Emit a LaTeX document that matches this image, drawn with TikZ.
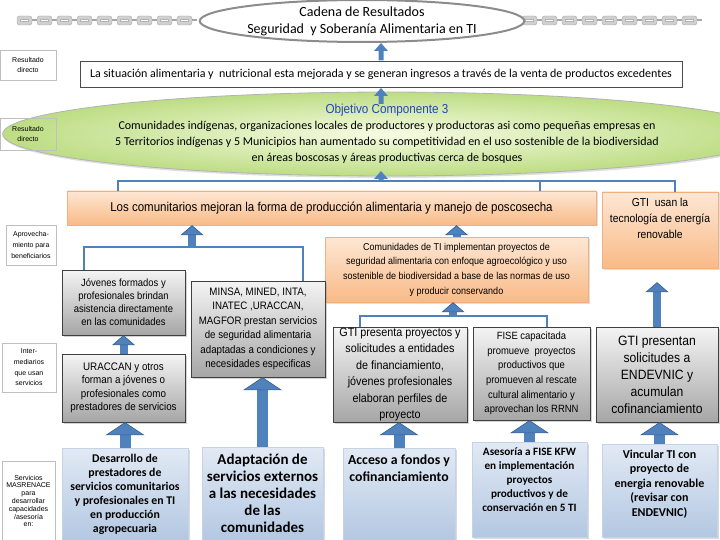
\documentclass[tikz,border=0pt]{standalone}
\usepackage{fontspec}
\setmainfont{Carlito}
\newfontfamily\arialf[FakeStretch=0.9]{Liberation Sans}
\newfontfamily\arialw{Liberation Sans}
\usetikzlibrary{shapes.geometric,arrows.meta,shadows}

\definecolor{arrblue}{HTML}{4F81BD}
\definecolor{arrdark}{HTML}{385D8A}
\definecolor{orgtop}{HTML}{FDE7D4}
\definecolor{orgbot}{HTML}{F9BA87}
\definecolor{orgline}{HTML}{F2B07E}
\definecolor{greytop}{HTML}{F4F4F4}
\definecolor{greybot}{HTML}{A6A6A6}
\definecolor{bluetop}{HTML}{E1E9F4}
\definecolor{bluebot}{HTML}{B4C8E2}
\definecolor{blueline}{HTML}{C5D3E6}
\definecolor{greenin}{HTML}{F6FBE3}
\definecolor{greenout}{HTML}{BDDD84}
\definecolor{chaingray}{HTML}{D0D0D0}
\definecolor{objblue}{HTML}{2348B5}

% box with its text kept at the top
\newcommand{\topfill}[4]{\parbox[c][#1][t]{#2}{\centering\vspace*{#3}#4}}

\tikzset{
  orangebox/.style={draw=orgline, top color=orgtop, bottom color=orgbot,
    drop shadow={opacity=0.25,shadow xshift=1.5pt,shadow yshift=-1.5pt},
    align=center, inner sep=0pt},
  greybox/.style={draw=black!75, top color=greytop, bottom color=greybot,
    drop shadow={opacity=0.35,shadow xshift=1.5pt,shadow yshift=-1.5pt},
    align=center, inner sep=0pt},
  bluebox/.style={draw=blueline, top color=bluetop, bottom color=bluebot,
    drop shadow={opacity=0.3,shadow xshift=1.5pt,shadow yshift=-1.5pt},
    align=center, inner sep=0pt},
  sidelabel/.style={draw=black!25, align=center, inner sep=0pt},
  bracket/.style={draw=arrblue, line width=1.6pt},
  arrmid/.style={draw=arrblue, line width=8pt,
    -{Triangle[width=23pt,length=10pt,color=arrdark,fill=arrblue,line width=0.6pt]}},
  arrbig/.style={draw=arrblue, line width=11pt,
    -{Triangle[width=39pt,length=13pt,color=arrdark,fill=arrblue,line width=0.6pt]}},
}

\begin{document}
\begin{tikzpicture}[x=1pt,y=-1pt]
\useasboundingbox (0,0) rectangle (720,540);

% chains left and right of the title
\foreach \cx in {17,37,...,177}{
  \draw[draw=black!35, fill=chaingray, rounded corners=2.5pt] (\cx,16) rectangle ++(15,9);
  \draw[draw=black!30, fill=white] (\cx+3.5,19.3) rectangle ++(8,2.4);
  \draw[black!35, line width=2pt] (\cx+15,20.5) -- ++(5,0);
}
\foreach \cx in {522,542,...,682}{
  \draw[draw=black!35, fill=chaingray, rounded corners=2.5pt] (\cx,16) rectangle ++(15,9);
  \draw[draw=black!30, fill=white] (\cx+3.5,19.3) rectangle ++(8,2.4);
  \draw[black!35, line width=2pt] (\cx+15,20.5) -- ++(5,0);
}

% title and results
\node[ellipse, draw=black!45, line width=2pt, fill=white, minimum width=314pt,
  minimum height=42pt, inner sep=0pt, align=center,
  font=\fontsize{14}{17}\selectfont] (cadena) at (362,21)
  {Cadena de Resultados\\Seguridad~ y Soberanía Alimentaria en TI};
\node[draw=black!70, fill=white, minimum width=602pt, minimum height=26pt, inner sep=0pt,
  font=\fontsize{12}{14}\selectfont] (situacion) at (381,74)
  {La situación alimentaria y~ nutricional esta mejorada y se generan ingresos a través de la venta de productos excedentes};
\node[ellipse, draw=black!30, line width=0.8pt, inner color=greenin, outer color=greenout,
  drop shadow={opacity=0.25,shadow xshift=1.5pt,shadow yshift=-2pt},
  minimum width=660pt, minimum height=83pt, inner sep=0pt, align=center,
  font=\fontsize{12}{16}\selectfont] (objetivo) at (387,134)
  {{\arialf\fontsize{13}{16}\selectfont\color{objblue}Objetivo Componente 3}\\
   Comunidades indígenas, organizaciones locales de productores y productoras asi como pequeñas empresas en\\
   5 Territorios indígenas y 5 Municipios han aumentado su competitividad en el uso sostenible de la biodiversidad\\
   en áreas boscosas y áreas productivas cerca de bosques};

% side labels
\node[sidelabel, minimum width=56pt, minimum height=30pt,
  font=\arialw\fontsize{7}{10}\selectfont] (lab1) at (28,65) {Resultado\\directo};
\node[sidelabel, minimum width=56pt, minimum height=32pt,
  font=\arialw\fontsize{7}{10}\selectfont] (lab2) at (28,134) {Resultado\\directo};
\node[sidelabel, minimum width=50pt, minimum height=40pt,
  font=\arialw\fontsize{7}{11}\selectfont] (lab3) at (31,245) {Aprovecha-\\miento para\\beneficiarios};
\node[sidelabel, minimum width=54pt, minimum height=49pt,
  font=\arialw\fontsize{7}{10.7}\selectfont] (lab4) at (29,367.5) {Inter-\\mediarios\\que usan\\servicios};
\node[sidelabel, minimum width=53pt, minimum height=80pt,
  font=\arialw\fontsize{7}{7.8}\selectfont] (lab5) at (28.5,501)
  {Servicios\\MASRENACE\\para\\desarrollar\\capacidades\\/asesoría\\en:};

% orange outcome boxes
\node[orangebox, minimum width=529pt, minimum height=34pt,
  font=\arialf\fontsize{12.8}{14}\selectfont] (comunitarios) at (331.5,208)
  {Los comunitarios mejoran la forma de producción alimentaria y manejo de poscosecha};
\node[orangebox, font=\arialf\fontsize{11.5}{16}\selectfont] (energia) at (660,230)
  {\topfill{76pt}{116pt}{6pt}{GTI~ usan la\\tecnología de energía\\renovable}};
\node[orangebox, minimum width=263pt, minimum height=65pt,
  font=\arialf\fontsize{10}{14.7}\selectfont] (comunidades) at (456.5,269.5)
  {Comunidades de TI implementan proyectos de\\seguridad alimentaria con enfoque agroecológico y uso\\sostenible de biodiversidad a base de las normas de uso\\y producir conservando};

% grey intermediary boxes
\node[greybox, minimum width=123pt, minimum height=65pt,
  font=\arialf\fontsize{10.5}{13}\selectfont] (jovenes) at (123.5,302.5)
  {Jóvenes formados y\\profesionales brindan\\asistencia directamente\\en las comunidades};
\node[greybox, minimum width=134pt, minimum height=96pt,
  font=\arialf\fontsize{10.8}{14.5}\selectfont] (minsa) at (258,329)
  {MINSA, MINED, INTA,\\INATEC ,URACCAN,\\MAGFOR prestan servicios\\de seguridad alimentaria\\adaptadas a condiciones y\\necesidades especificas};
\node[greybox, minimum width=123pt, minimum height=68pt,
  font=\arialf\fontsize{10.9}{13.5}\selectfont] (uraccan) at (123.5,388)
  {URACCAN y otros\\forman a jóvenes o\\profesionales como\\prestadores de servicios};
\node[greybox, minimum width=134pt, minimum height=95pt,
  font=\arialf\fontsize{12}{16.5}\selectfont] (gtipresenta) at (400,374.5)
  {GTI presenta proyectos y\\solicitudes a entidades\\de financiamiento,\\jóvenes profesionales\\elaboran perfiles de\\proyecto};
\node[greybox, minimum width=117pt, minimum height=93pt,
  font=\arialf\fontsize{10.5}{14.7}\selectfont] (fise) at (531.5,373.5)
  {FISE capacitada\\promueve~ proyectos\\productivos que\\promueven al rescate\\cultural alimentario y\\aprovechan los RRNN};
\node[greybox, minimum width=122pt, minimum height=95pt,
  font=\arialf\fontsize{13.5}{17}\selectfont] (gtipresentan) at (657,374.5)
  {GTI presentan\\solicitudes a\\ENDEVNIC y\\acumulan\\cofinanciamiento};

% blue service boxes
\node[bluebox, minimum width=126pt, minimum height=92pt,
  font=\bfseries\fontsize{11.8}{14}\selectfont] (desarrollo) at (125,494)
  {Desarrollo de\\prestadores de\\servicios comunitarios\\y profesionales en TI\\en producción\\agropecuaria};
\node[bluebox, minimum width=121pt, minimum height=93pt,
  font=\bfseries\fontsize{15}{17}\selectfont] (adaptacion) at (262.5,493.5)
  {Adaptación de\\servicios externos\\a las necesidades\\de las\\comunidades};
\node[bluebox, font=\bfseries\fontsize{13.8}{17}\selectfont] (acceso) at (399,494)
  {\topfill{92pt}{112pt}{7pt}{Acceso a fondos y\\cofinanciamiento}};
\node[bluebox, font=\bfseries\fontsize{11.2}{14}\selectfont] (asesoria) at (529.5,489.5)
  {\topfill{95pt}{115pt}{6pt}{Asesoría a FISE KFW\\en implementación\\proyectos\\productivos y de\\conservación en 5 TI}};
\node[bluebox, font=\bfseries\fontsize{12}{14.5}\selectfont] (vincular) at (659.5,490.5)
  {\topfill{93pt}{115pt}{6pt}{Vincular TI con\\proyecto de\\energia renovable\\(revisar con\\ENDEVNIC)}};

% brackets
\coordinate (tb) at (381,181);
\coordinate (lb) at (192,247);
\coordinate (mb) at (453,316);
\coordinate (c540) at ([xshift=-56pt]comunitarios.north east);
\draw[bracket] ([xshift=51pt]comunitarios.north west) |- (tb) -| ([xshift=15pt]energia.north);
\draw[bracket] (c540) -- (c540 |- tb);
\draw[bracket] ([xshift=-39.5pt]jovenes.north) |- (lb) -| ([xshift=45pt]minsa.north);
\draw[bracket] ([xshift=-40pt]gtipresenta.north) |- (mb) -| ([xshift=15.5pt]fise.north);

% small arrows at the top
\fill[arrblue] (378.5,60.5) -- (378.5,51) -- (374,51) -- (381,43) -- (388,51)
  -- (383.5,51) -- (383.5,60.5) -- cycle;
\fill[arrblue] (378.5,104) -- (378.5,96) -- (374,96) -- (381,88) -- (388,96)
  -- (383.5,96) -- (383.5,104) -- cycle;
\fill[arrblue] (378.5,180) -- (378.5,179) -- (374,179) -- (381,171) -- (388,179)
  -- (383.5,179) -- (383.5,180) -- cycle;

% arrows
\draw[arrmid] (lb) -- (lb |- comunitarios.south);
\draw[arrmid] (comunidades.north) -- (comunidades.north |- comunitarios.south);
\draw[arrmid] (mb) -- (mb |- comunidades.south);
\draw[arrmid] (uraccan.north) -- (jovenes.south);
\draw[arrmid, shorten >=14pt] (gtipresentan.north) -- (gtipresentan.north |- energia.south);
\draw[arrbig] (desarrollo.north) -- (desarrollo.north |- uraccan.south);
\draw[arrbig] (adaptacion.north) -- (adaptacion.north |- minsa.south);
\draw[arrbig] (acceso.north) -- (acceso.north |- gtipresenta.south);
\draw[arrbig] (asesoria.north) -- (asesoria.north |- fise.south);
\draw[arrbig] (vincular.north) -- (vincular.north |- gtipresentan.south);
\end{tikzpicture}
\end{document}
